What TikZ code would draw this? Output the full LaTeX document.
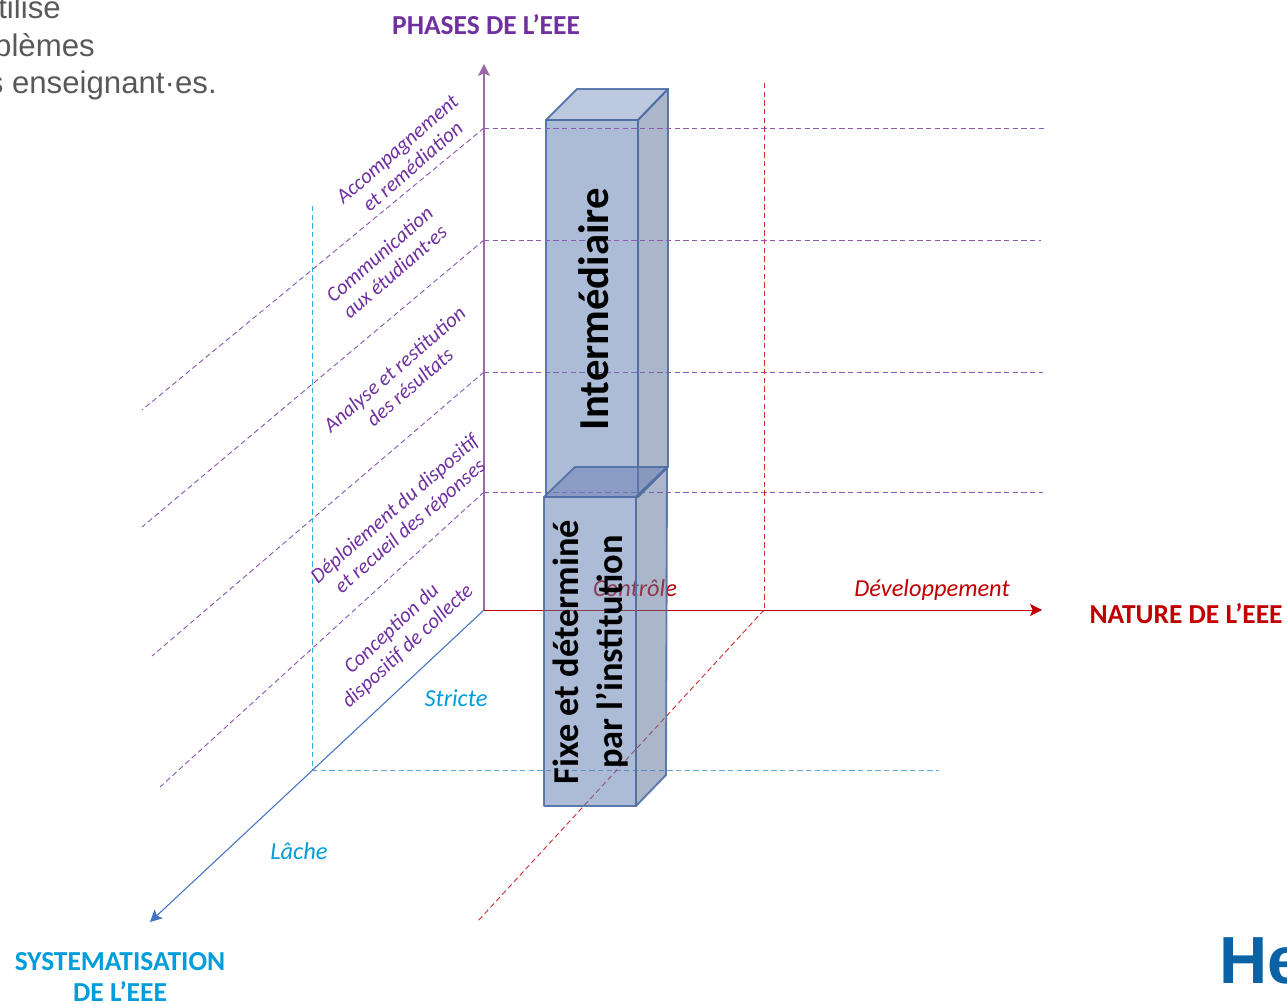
\documentclass[tikz,border=0pt]{standalone}
\usepackage{fontspec}
\usetikzlibrary{arrows.meta}
\setmainfont{Carlito}
\newfontfamily\introfont{Liberation Sans}
\newfontfamily\logofont{Liberation Sans}
\definecolor{phasecol}{HTML}{7030A0}
\definecolor{phaseaxis}{HTML}{9A68A8}
\definecolor{naturecol}{HTML}{C00000}
\definecolor{systcol}{HTML}{009DDC}
\definecolor{systaxis}{HTML}{4472C4}
\definecolor{systdash}{HTML}{3E8AC8}
\definecolor{boxedge}{HTML}{4F6FA5}
\definecolor{frontfill}{HTML}{5B79AD}
\definecolor{topfill}{HTML}{7B93BF}
\definecolor{sidefill}{HTML}{596D97}
\definecolor{seatfill}{HTML}{677EB2}
\definecolor{logocol}{HTML}{0A63A4}
\tikzset{
	phase/.style={rotate=41, align=center, text=phasecol, font=\fontsize{15.7}{17.5}\selectfont\itshape, inner sep=0pt},
	axistitle/.style={align=center, font=\fontsize{20.6}{23}\selectfont\bfseries, inner sep=0pt},
	axisvalue/.style={font=\fontsize{18.3}{20}\selectfont\itshape, inner sep=0pt},
	boxtext/.style={rotate=90, align=center, text=black, inner sep=0pt},
	guideline/.style={line width=0.7pt, dash pattern=on 4pt off 2.5pt},
	phaseline/.style={guideline, phasecol!80!white},
	intro/.style={anchor=east, text=black!65, font=\fontsize{23.4}{27}\introfont, inner sep=0pt},
	boxface/.style={draw=boxedge, line width=1.4pt, line join=round, fill opacity=0.5, draw opacity=0.9},
	axistip/.style={-{Stealth[length=9pt, width=9pt, inset=2pt]}}
}
\begin{document}
\begin{tikzpicture}[x=0.75pt, y=-0.75pt]
	\useasboundingbox (0,0) rectangle (1287,1003);
	\clip (0,0) rectangle (1287,1003);

	\coordinate (O) at (484,610);
	\coordinate (phasetop) at (484,64);
	\coordinate (naturetip) at (1042,610);
	\coordinate (systtip) at (150,922);
	\coordinate (p1) at (484,128);
	\coordinate (p2) at (484,240);
	\coordinate (p3) at (484,372);
	\coordinate (p4) at (484,492);

	\node [intro] (intro1) at (61,7) {tilise};
	\node [intro] (intro2) at (95,45.5) {blèmes};
	\node [intro] (intro3) at (217,85) {s enseignant·es.};

	\node [axistitle, text=phasecol] (phases) at (486,25) {PHASES DE L’EEE};
	\node [axistitle, text=naturecol] (nature) at (1186,614) {NATURE DE L’EEE};
	\node [axistitle, text=systcol] (syst) at (120,977) {SYSTEMATISATION\\DE L’EEE};

	\draw [phaseline] (p3) -- (1043,372);
	\draw [phaseline] (p4) -- (1043,492);
	\draw [phaseline] (p1) -- (142,410);
	\draw [phaseline] (p2) -- (142,527);
	\draw [phaseline] (p3) -- (152,656);
	\draw [phaseline] (p4) -- (160,787);

	\draw [guideline, systcol!80!white] (312,206) -- (312,770);
	\draw [guideline, systdash!80!white] (312,770) -- (939,770);
	\draw [guideline, naturecol!80!white] (764,83) -- (764,610);
	\draw [guideline, naturecol!80!white] (764,610) -- (477,922);

	\draw [axistip, phaseaxis, line width=1pt] (O) -- (phasetop);
	\draw [axistip, naturecol, line width=0.7pt] (O) -- (naturetip);
	\draw [axistip, systaxis, line width=0.8pt] (O) -- (systtip);

	\node [phase] (accomp) at (405,158) {Accompagnement\\et remédiation};
	\node [phase] (commu) at (387,263) {Communication\\aux étudiant·es};
	\node [phase] (analyse) at (402,378) {Analyse et restitution\\des résultats};
	\node [phase] (deploi) at (403,518) {Déploiement du dispositif\\et recueil des réponses};
	\node [phase, rotate=2] (concep) at (400,638) {Conception du\\dispositif de collecte};

	\node [axisvalue, text=systcol] (stricte) at (456,698) {Stricte};
	\node [axisvalue, text=systcol] (lache) at (299,851) {Lâche};
	\node [axisvalue, text=naturecol] (controle) at (635,588) {Contrôle};
	\node [axisvalue, text=naturecol] (devel) at (932,590) {Développement};

	\filldraw [boxface, fill=frontfill] (546,120) rectangle (638,497);
	\filldraw [boxface, fill=topfill] (546,120) -- (577,89) -- (668,89) -- (638,120) -- cycle;
	\filldraw [boxface, fill=sidefill] (638,120) -- (668,89) -- (668,467) -- (638,497) -- cycle;
	\filldraw [boxface, fill=frontfill] (544,497) rectangle (636,806);
	\filldraw [boxface, fill=seatfill] (544,497) -- (575,467) -- (667,467) -- (636,497) -- cycle;
	\filldraw [boxface, fill=sidefill] (636,497) -- (667,467) -- (666,775) -- (636,806) -- cycle;

	\draw [phaseline] (p1) -- (1046,128);
	\draw [phaseline] (p2) -- (1041,240);

	\node [boxtext, font=\fontsize{32}{36}\selectfont\bfseries] (interm) at (594,309) {Intermédiaire};
	\node [boxtext, font=\fontsize{27.3}{33}\selectfont\bfseries] (fixe) at (591,652) {Fixe et déterminé\\par l’institution};

	\node [anchor=west, text=logocol, font=\fontsize{50}{50}\logofont\bfseries, inner sep=0pt] (logo) at (1219,961) {He};
\end{tikzpicture}
\end{document}
